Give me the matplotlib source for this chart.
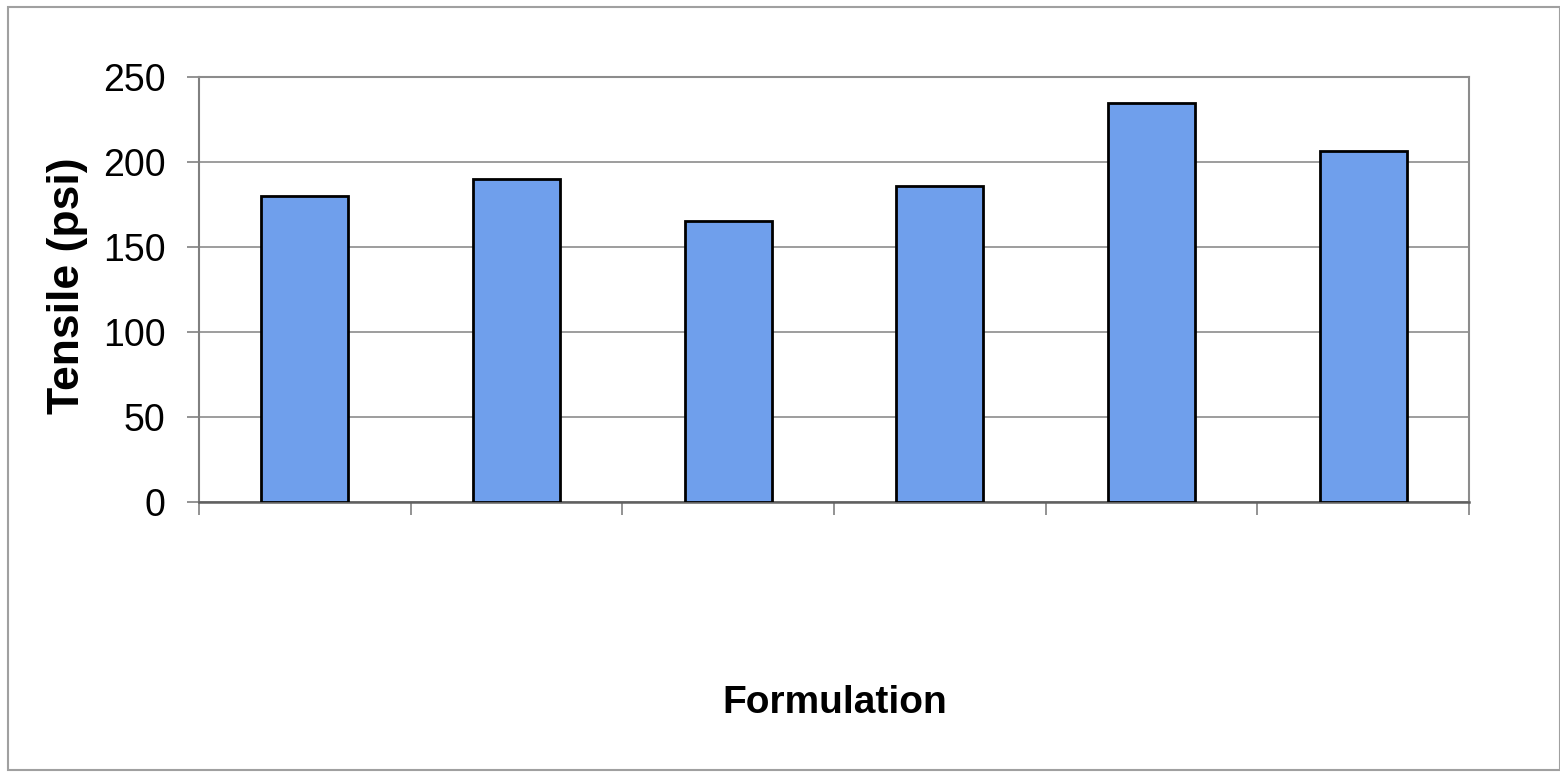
import matplotlib
matplotlib.use("Agg")
import matplotlib.pyplot as plt
from matplotlib.patches import Rectangle

categories = ["1", "2", "3", "4", "5", "6"]
tensile = [180, 190, 165.5, 186, 235, 206.5]
yticks = [0, 50, 100, 150, 200, 250]

plt.rcParams['font.family'] = ['Liberation Sans', 'DejaVu Sans']

W, H = 1560, 772
fig = plt.figure(figsize=(W/100, H/100), dpi=100)
fig.patch.set_facecolor('white')

# outer chart frame
fig.patches.append(Rectangle((8/W, 2/H), (W-8)/W, (H-9)/H, transform=fig.transFigure,
                             fill=False, edgecolor='#a0a0a0', linewidth=1.5))

left, right, top, bottom = 199, 1469, 77, 502
ax = fig.add_axes([left/W, 1-bottom/H, (right-left)/W, (bottom-top)/H])

x = list(range(len(categories)))
ax.bar(x, tensile, width=0.41, color='#6f9fec', edgecolor='black', linewidth=2, zorder=3)

ax.set_xlim(-0.5, len(categories)-0.5)
ax.set_ylim(0, 250)
ax.set_yticks(yticks)
ax.set_yticklabels([str(v) for v in yticks], fontsize=27)
ax.yaxis.grid(True, color='#8c8c8c', linewidth=1.2, zorder=0)

ax.set_xticks([i - 0.5 for i in range(len(categories)+1)])
ax.set_xticklabels([])
ax.tick_params(axis='x', direction='out', length=9, color='#808080', width=1.2)
ax.tick_params(axis='y', direction='out', length=9, color='#808080', width=1.2, pad=15)

for s in ['top', 'right']:
    ax.spines[s].set_color('#8c8c8c')
    ax.spines[s].set_linewidth(1.5)
ax.spines['left'].set_color('#808080')
ax.spines['left'].set_linewidth(1.5)
ax.spines['bottom'].set_color('#606060')
ax.spines['bottom'].set_linewidth(1.8)

fig.text(835/W, 1-703/H, 'Formulation', fontsize=28, fontweight='bold', ha='center', va='center')
fig.text(67/W, 1-286/H, 'Tensile (psi)', fontsize=32, fontweight='bold', rotation=90,
         ha='center', va='center')

fig.savefig('out.png', dpi=100, facecolor='white')
